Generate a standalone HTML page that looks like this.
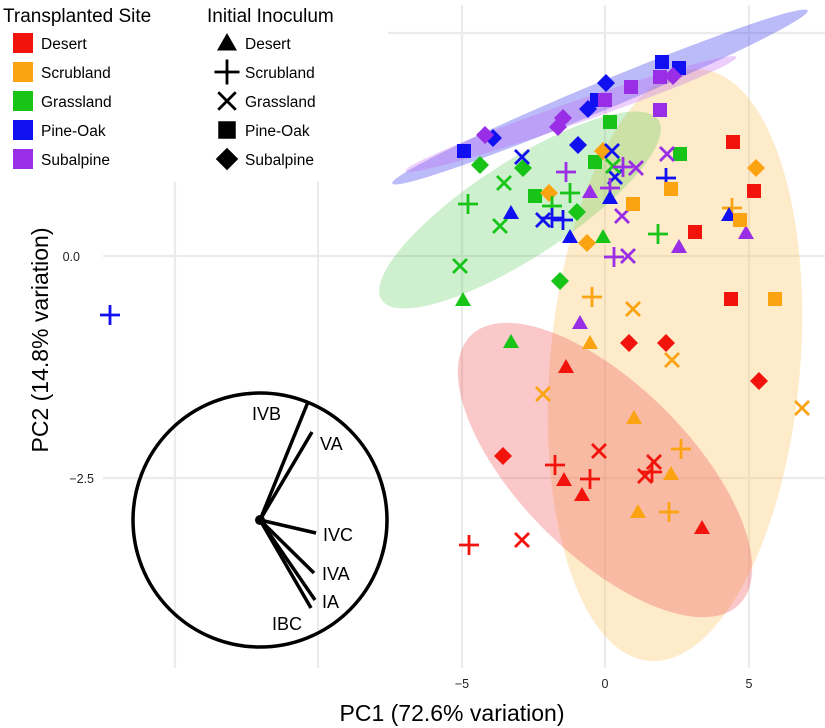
<!DOCTYPE html>
<html><head><meta charset="utf-8"><style>
html,body{margin:0;padding:0;background:#fff}
svg{display:block;font-family:"Liberation Sans",sans-serif}
</style></head><body>
<svg id="s" width="825" height="728" viewBox="0 0 825 728" xmlns="http://www.w3.org/2000/svg">
<g stroke="#ebebeb" stroke-width="2.2">
<line x1="175" y1="182" x2="175" y2="668"/>
<line x1="318" y1="182" x2="318" y2="668"/>
<line x1="462" y1="5" x2="462" y2="668"/>
<line x1="605" y1="5" x2="605" y2="668"/>
<line x1="749" y1="5" x2="749" y2="668"/>
<line x1="388" y1="33" x2="825" y2="33"/>
<line x1="103" y1="256" x2="825" y2="256"/>
<line x1="103" y1="478" x2="825" y2="478"/>
</g>
<ellipse cx="675" cy="365" rx="125" ry="297" transform="rotate(5 675 365)" fill="#f9c766" fill-opacity="0.35"/>
<ellipse cx="605" cy="470" rx="190" ry="85" transform="rotate(45 605 470)" fill="#f04a4a" fill-opacity="0.3"/>
<ellipse cx="520" cy="210" rx="165" ry="48" transform="rotate(-33 520 210)" fill="#3cc43c" fill-opacity="0.25"/>
<ellipse cx="600" cy="97" rx="225" ry="14" transform="rotate(-22.6 600 97)" fill="#3b3bef" fill-opacity="0.35"/>
<ellipse cx="571" cy="114" rx="175" ry="11" transform="rotate(-19 571 114)" fill="#c060f0" fill-opacity="0.3"/>
<g id="pts"></g>
<g fill="none" stroke="#000" stroke-width="3.5" stroke-linecap="butt">
<circle cx="260" cy="520" r="127"/>
<line x1="260" y1="520" x2="308" y2="402"/>
<line x1="260" y1="520" x2="312" y2="432"/>
<line x1="260" y1="520" x2="316" y2="533"/>
<line x1="260" y1="520" x2="314" y2="573"/>
<line x1="260" y1="520" x2="315" y2="600"/>
<line x1="260" y1="520" x2="311" y2="608"/>
</g>
<circle cx="260" cy="520" r="5" fill="#000"/>
<g font-size="18" fill="#000">
<text x="252" y="420">IVB</text>
<text x="320" y="450">VA</text>
<text x="323" y="541">IVC</text>
<text x="322" y="580">IVA</text>
<text x="322" y="608">IA</text>
<text x="272" y="630">IBC</text>
</g>
<g font-size="12.5" fill="#222">
<text x="80" y="261" text-anchor="end">0.0</text>
<text x="94" y="483" text-anchor="end">−2.5</text>
<text x="462" y="688" text-anchor="middle">−5</text>
<text x="605" y="688" text-anchor="middle">0</text>
<text x="749" y="688" text-anchor="middle">5</text>
</g>
<text x="452" y="721" font-size="23" text-anchor="middle">PC1 (72.6% variation)</text>
<text transform="translate(48 340) rotate(-90)" font-size="23" text-anchor="middle">PC2 (14.8% variation)</text>
<g font-size="19"><text x="3" y="22">Transplanted Site</text><text x="207" y="22">Initial Inoculum</text></g>
<g id="leg" font-size="15.5"></g>
</svg>
<script>
const C={r:"#f2140c",o:"#fca311",g:"#18c418",b:"#1010f0",p:"#9a2ee6",k:"#000"};
const ns="http://www.w3.org/2000/svg";
function el(t,a,p){const e=document.createElementNS(ns,t);for(const k in a)e.setAttribute(k,a[k]);p.appendChild(e);return e;}
function mk(p,s,c,x,y,z){z=z||1;const col=C[c];
 if(s=="s")el("rect",{x:x-7*z,y:y-7*z,width:14*z,height:14*z,fill:col},p);
 else if(s=="d")el("polygon",{points:`${x},${y-9*z} ${x+9*z},${y} ${x},${y+9*z} ${x-9*z},${y}`,fill:col},p);
 else if(s=="t")el("polygon",{points:`${x},${y-8*z} ${x+8*z},${y+6*z} ${x-8*z},${y+6*z}`,fill:col},p);
 else if(s=="+")el("path",{d:`M${x-10*z} ${y}H${x+10*z}M${x} ${y-10*z}V${y+10*z}`,stroke:col,"stroke-width":2.8,fill:"none"},p);
 else if(s=="x")el("path",{d:`M${x-7*z} ${y-7*z}L${x+7*z} ${y+7*z}M${x+7*z} ${y-7*z}L${x-7*z} ${y+7*z}`,stroke:col,"stroke-width":2.8,fill:"none"},p);
}
const P=[
["s","b",662,62],["s","b",679,68],["s","b",597,100],["s","b",464,151],
["s","p",631,87],["s","p",660,77],["s","p",660,110],["s","p",605,100],
["d","b",606,83],["d","b",588,109],["d","b",493,138],["d","b",578,145],
["d","p",485,135],["d","p",563,118],["d","p",558,127],["d","p",673,76],
["s","g",610,122],["s","g",595,162],["s","g",680,154],["s","g",535,196],
["d","g",480,165],["d","g",523,168],["d","g",577,212],["d","g",560,281],
["d","o",603,151],["d","o",549,193],["d","o",587,243],["d","o",756,168],
["x","b",522,157],["x","b",612,151],["x","b",615,177],["x","b",543,220],
["x","g",504,183],["x","g",500,226],["x","g",460,266],["x","g",613,166],
["x","p",667,154],["x","p",636,168],["x","p",622,216],["x","p",628,256],
["+","g",468,204],["+","g",570,193],["+","g",552,206],["+","g",658,234],
["+","p",566,172],["+","p",623,167],["+","p",610,188],["+","p",614,257],
["+","b",666,178],["+","b",552,218],["+","b",563,220],["+","b",110,315],
["+","o",732,208],["+","o",592,297],
["t","b",511,213],["t","b",610,198],["t","b",570,237],["t","b",729,215],
["t","p",590,192],["t","p",679,247],["t","p",746,233],["t","p",580,323],
["t","g",603,237],["t","g",463,300],["t","g",511,342],
["s","o",671,189],["s","o",633,204],["s","o",740,220],["s","o",775,299],
["s","r",733,142],["s","r",754,191],["s","r",695,232],["s","r",731,299],
["x","o",633,309],["x","o",672,360],["x","o",543,394],["x","o",802,408],
["d","r",629,343],["d","r",666,343],["d","r",759,381],["d","r",503,456],
["t","r",566,367],["t","r",564,480],["t","r",582,495],["t","r",702,528],
["t","o",590,343],["t","o",634,418],["t","o",671,474],["t","o",638,512],
["x","r",599,451],["x","r",654,462],["x","r",645,476],["x","r",522,540],
["+","r",555,465],["+","r",590,479],["+","r",652,472],["+","r",469,545],
["+","o",681,449],["+","o",669,512]];
const g=document.getElementById("pts");
P.forEach(a=>mk(g,a[0],a[1],a[2],a[3]));
const L=document.getElementById("leg");
const names=["Desert","Scrubland","Grassland","Pine-Oak","Subalpine"];
const cols=["r","o","g","b","p"],sh=["t","+","x","s","d"];
names.forEach((n,i)=>{const y=43+i*29;
 el("rect",{x:13,y:y-10,width:20,height:20,fill:C[cols[i]]},L);
 el("text",{x:41,y:y+6},L).textContent=n;
 mk(L,sh[i],"k",227,y,1.25);
 el("text",{x:245,y:y+6},L).textContent=n;});
</script>
</body></html>
